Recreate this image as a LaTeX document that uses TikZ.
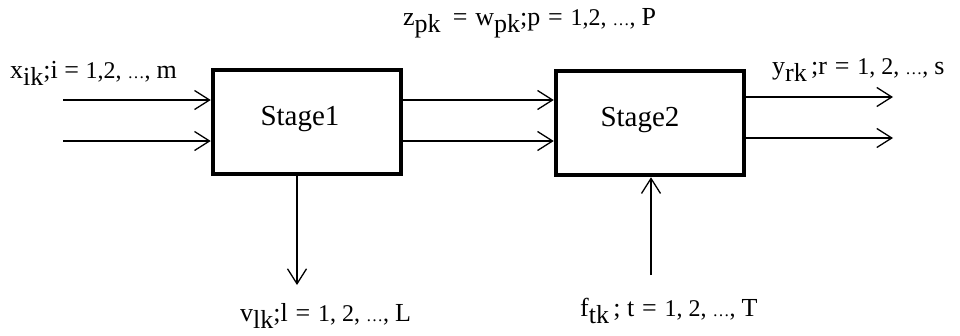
\documentclass[tikz,border=0pt]{standalone}
\usepackage{fontspec}
\setmainfont{Liberation Serif}
\usetikzlibrary{arrows.meta}
% lowered, full-size index letters
\newcommand\lowsub[1]{\raisebox{-7.5pt}{#1}}
% numbers and dots are set a little smaller than the letters
\newcommand\nums[1]{{\fontsize{24}{26}\selectfont #1}}
\newcommand\sdots{{\fontsize{17}{18}\selectfont\ldots}}
\newcommand\eqs{\hspace{0.3em}=\hspace{0.3em}}
\begin{document}
\begin{tikzpicture}[x=1pt,y=-1pt,
  stagebox/.style={draw,line width=4.5pt,minimum width=188pt,minimum height=104pt,
    inner sep=0pt,font=\fontsize{29}{30}\selectfont},
  flow/.style={line width=1.3pt,-{Straight Barb[length=15pt,width=19pt,line width=1.3pt]}},
  lbl/.style={anchor=base west,inner sep=0pt,font=\fontsize{26}{28}\selectfont}]
\useasboundingbox (0,0) rectangle (960,335);
% the two stages
\node[stagebox] (s1) at (307,122) {\raisebox{12pt}{Stage1\hspace*{14pt}}};
\node[stagebox] (s2) at (650,123) {\raisebox{12pt}{Stage2\hspace*{20pt}}};
% free ends of the connectors
\coordinate (i1) at (63,100);
\coordinate (i2) at (63,141);
\coordinate (m1) at (0,100);
\coordinate (m2) at (0,141);
\coordinate (o1) at (893,97);
\coordinate (o2) at (893,138);
\coordinate (vd) at (297,285);
\coordinate (fu) at (651,275);
% inputs, intermediate flows, outputs
\draw[flow] (i1) -- (i1 -| s1.west);
\draw[flow] (i2) -- (i2 -| s1.west);
\draw[flow] (m1 -| s1.east) -- (m1 -| s2.west);
\draw[flow] (m2 -| s1.east) -- (m2 -| s2.west);
\draw[flow] (o1 -| s2.east) -- (o1);
\draw[flow] (o2 -| s2.east) -- (o2);
\draw[flow] (vd |- s1.south) -- (vd);
\draw[flow] (fu) -- (fu |- s2.south);
% labels
\node[lbl] (lx) at (10,78) {x\lowsub{ik};i = \nums{1,2, \sdots, }m};
\node[lbl] (lz) at (403,25) {z\lowsub{pk}\,\eqs w\lowsub{pk};p\eqs\nums{1,2, \sdots, }P};
\node[lbl] (ly) at (772,74) {y\lowsub{rk}\,;r\eqs\nums{1, 2, \sdots, }s};
\node[lbl] (lv) at (240,321) {v\lowsub{lk};l\eqs\nums{1, 2, \sdots, }L};
\node[lbl] (lf) at (580,316) {f\lowsub{tk}\,; t\eqs\nums{1, 2, \sdots, }T};
\end{tikzpicture}
\end{document}
